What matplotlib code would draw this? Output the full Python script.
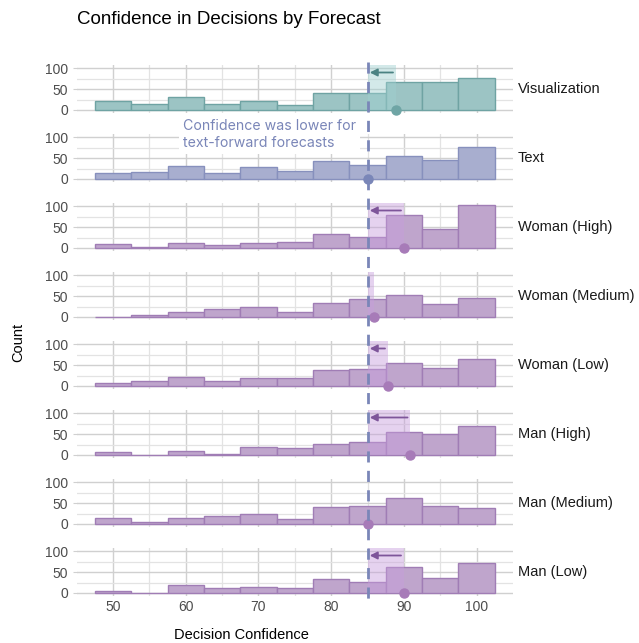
import numpy as np
import matplotlib
matplotlib.use("Agg")
import matplotlib.pyplot as plt
from matplotlib.lines import Line2D

# bins of width 5, centred on 50..100
bin_centers = [50, 55, 60, 65, 70, 75, 80, 85, 90, 95, 100]
panels = ["Visualization", "Text", "Woman (High)", "Woman (Medium)",
          "Woman (Low)", "Man (High)", "Man (Medium)", "Man (Low)"]
counts = [
    [22, 14, 30, 14, 21, 11, 41, 40, 66, 66, 76],
    [15, 16, 31, 15, 29, 20, 44, 33, 54, 45, 76],
    [10, 3, 12, 8, 11, 15, 34, 27, 80, 46, 103],
    [1, 4, 12, 18, 23, 12, 33, 44, 52, 31, 46],
    [8, 12, 21, 11, 19, 18, 38, 40, 55, 42, 65],
    [6, 1, 10, 3, 19, 17, 26, 30, 54, 51, 69],
    [15, 5, 15, 18, 24, 13, 41, 42, 63, 42, 38],
    [5, 1, 19, 12, 15, 13, 33, 27, 62, 37, 72],
]
means = [88.9, 85, 90, 85.9, 87.8, 90.9, 85.1, 90]
reference = 85

fills = ["#9cc4c4", "#a8aecf"] + ["#bfa5cc"] * 6
edges = ["#6fa3a3", "#8790bd"] + ["#a07db5"] * 6
dots = ["#6fa5a5", "#7a86b8"] + ["#a77bb8"] * 6
shades = ["#9fd0d0", None] + ["#c79ddc"] * 6
arrows = ["#4a8282", None] + ["#7e559a"] * 6

W, H = 639, 643
fig = plt.figure(figsize=(W / 100, H / 100), dpi=100)

x0, x1 = 76.7, 513
ylo, yhi = -8, 108
tick_font = dict(family="Liberation Sans", size=10, color="#4d4d4d")

for i, name in enumerate(panels):
    top = 65 + 69 * i
    bot = 113.3 + 69 * i
    ax = fig.add_axes([x0 / W, 1 - bot / H, (x1 - x0) / W, (bot - top) / H])
    ax.set_xlim(45, 105)
    ax.set_ylim(ylo, yhi)
    for s in ax.spines.values():
        s.set_visible(False)
    ax.set_xticks([50, 60, 70, 80, 90, 100])
    ax.set_xticks([55, 65, 75, 85, 95], minor=True)
    ax.set_yticks([0, 50, 100])
    ax.set_yticks([25, 75], minor=True)
    ax.grid(which="major", color="#d0d0d0", lw=1.0)
    ax.grid(which="minor", color="#e3e3e3", lw=0.9)
    ax.set_axisbelow(True)
    ax.tick_params(which="both", length=0, pad=3)
    ax.tick_params(axis="y", which="major", length=3, color="#d0d0d0")
    ax.set_yticklabels(["0", "50", "100"], fontdict=tick_font)
    if i == len(panels) - 1:
        ax.set_xticklabels(["50", "60", "70", "80", "90", "100"], fontdict=tick_font)
    else:
        ax.set_xticklabels([])

    ax.bar(bin_centers, counts[i], width=5, color=fills[i], edgecolor=edges[i],
           linewidth=1.0, zorder=2)

    m = means[i]
    if shades[i] is not None and m - reference > 0.5:
        ax.fill_between([reference, m], 0, 107, color=shades[i], alpha=0.45,
                        lw=0, zorder=3)
        if m - reference > 1.5:
            ax.annotate("", xy=(reference + 0.3, 90), xytext=(m - 0.4, 90),
                        arrowprops=dict(arrowstyle="-|>", color=arrows[i], lw=1.3,
                                        mutation_scale=11, shrinkA=0, shrinkB=0),
                        zorder=4)
    ax.plot([m], [0], "o", ms=6.5, color=dots[i], zorder=5, clip_on=False)

    fig.text(518 / W, 1 - (bot - (0 - ylo) * 0.417 - 21) / H, name,
             family="Liberation Sans", size=10.5, color="#1a1a1a", va="center")

# dashed reference line across all panels
xr = (x0 + (reference - 45) / 60 * (x1 - x0)) / W
fig.add_artist(Line2D([xr, xr], [1 - 62 / H, 1 - 600 / H], color="#7a86b8",
                      lw=2, ls=(0, (4, 3))))

fig.text(183 / W, 1 - 134.5 / H, "Confidence was lower for\ntext-forward forecasts",
         family="Inter", size=10.2, color="#7a86b8", va="center", linespacing=1.25,
         bbox=dict(facecolor="white", edgecolor="none", pad=3))

fig.text(77 / W, 1 - 20 / H, "Confidence in Decisions by Forecast",
         family="Liberation Sans", size=13.5, color="black", va="center")
fig.text(241 / W, 1 - 635 / H, "Decision Confidence", family="Liberation Sans",
         size=10.5, ha="center", va="center")
fig.text(18 / W, 1 - 342 / H, "Count", family="Liberation Sans", size=10.5,
         rotation=90, ha="center", va="center")

fig.savefig("out.png", dpi=100)
